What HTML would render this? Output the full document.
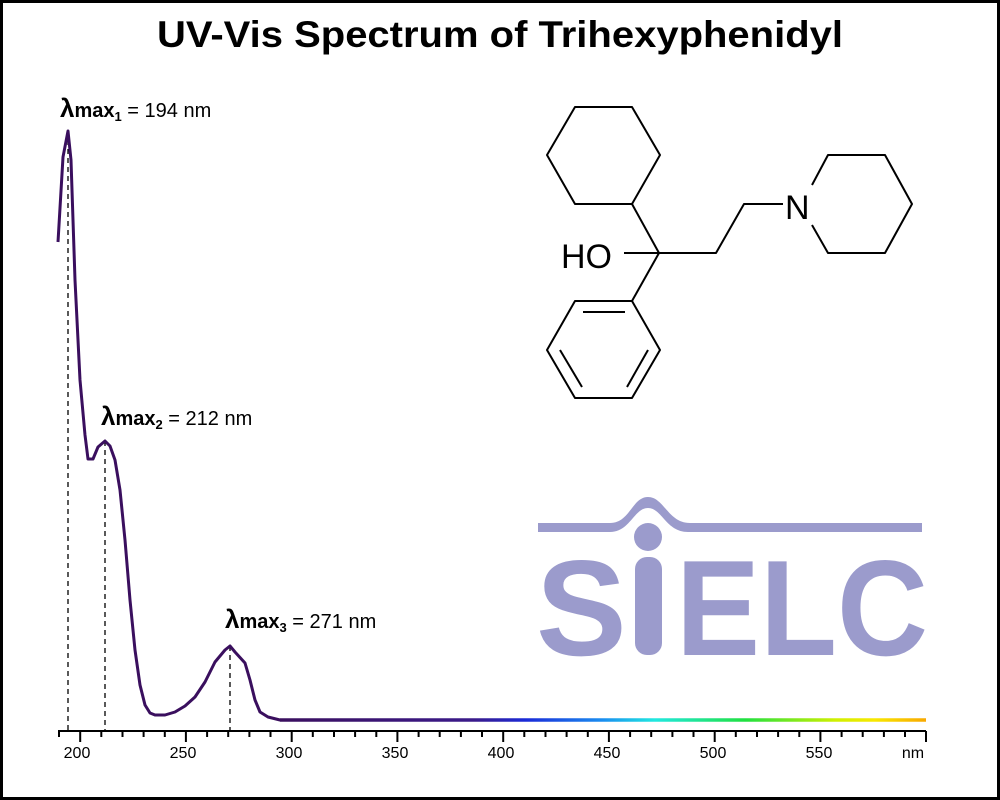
<!DOCTYPE html>
<html><head><style>
html,body{margin:0;padding:0;background:#fff}
svg{display:block}
text{font-family:"Liberation Sans",Arial,sans-serif}
</style></head><body>
<svg width="1000" height="800" viewBox="0 0 1000 800" xmlns="http://www.w3.org/2000/svg">
<defs>
<linearGradient id="spec" gradientUnits="userSpaceOnUse" x1="280" y1="0" x2="926" y2="0">
<stop offset="0" stop-color="#3a0f5e"/>
<stop offset="0.3" stop-color="#3a1a8a"/>
<stop offset="0.38" stop-color="#1a2ad8"/>
<stop offset="0.5" stop-color="#1a8ef0"/>
<stop offset="0.58" stop-color="#20e8e0"/>
<stop offset="0.72" stop-color="#20e040"/>
<stop offset="0.86" stop-color="#d0f000"/>
<stop offset="0.92" stop-color="#f8e800"/>
<stop offset="1" stop-color="#f8a800"/>
</linearGradient>
</defs>
<rect x="1.5" y="1.5" width="997" height="797" fill="#fff" stroke="#000" stroke-width="3"/>
<text x="500" y="47" font-size="37" font-weight="bold" text-anchor="middle" textLength="686" lengthAdjust="spacingAndGlyphs">UV-Vis Spectrum of Trihexyphenidyl</text>

<g fill="#9b9bcc">
<path d="M538 523 L610 523 C630 523 632 497 648 497 C664 497 668 523 690 523 L922 523 L922 532 L688 532 C666 532 662 508 648 508 C634 508 630 532 610 532 L538 532 Z"/>
<circle cx="648" cy="537" r="14"/>
<text x="536" y="655" font-size="136" font-weight="bold">S</text>
<rect x="635" y="557" width="27" height="98" rx="12"/>
<text x="676" y="655" font-size="136" font-weight="bold" textLength="252" lengthAdjust="spacingAndGlyphs">ELC</text>
</g>

<g stroke="#000" stroke-width="2" fill="none" stroke-linejoin="round">
<polygon points="575,107 632,107 660,155 632,204 575,204 547,155"/>
<line x1="632" y1="204" x2="659" y2="253"/>
<line x1="624" y1="253" x2="659" y2="253"/>
<polyline points="659,253 716,253 744,204 783,204"/>
<polyline points="812,185 828,155 885,155 912,204 885,253 828,253 812,225"/>
<line x1="659" y1="253" x2="632" y2="301"/>
<polygon points="632,301 575,301 547,350 575,398 632,398 660,350"/>
<line x1="583" y1="312" x2="625" y2="312"/>
<line x1="560" y1="350" x2="582" y2="387"/>
<line x1="648" y1="350" x2="627" y2="387"/>
</g>
<text x="561" y="268" font-size="34">HO</text>
<text x="785" y="219" font-size="34">N</text>

<g stroke="#000" stroke-width="1.3" stroke-dasharray="5,4">
<line x1="68" y1="131" x2="68" y2="730"/>
<line x1="105" y1="441" x2="105" y2="730"/>
<line x1="230" y1="646" x2="230" y2="730"/>
</g>

<path d="M280 720 L926 720" stroke="url(#spec)" stroke-width="3.5" fill="none"/>
<polyline fill="none" stroke="#3a0f5e" stroke-width="3" stroke-linejoin="round" points="58,242 63,157 68,131 71,160 75,280 80,380 85,435 88,459 93,459 98,447 105,441 110,446 115,460 120,490 125,540 130,600 135,650 140,685 145,705 150,713 155,715 165,715 175,712 185,706 195,697 205,682 215,662 225,650 230,646 235,652 245,663 250,680 255,700 260,712 268,717 280,720 282,720"/>

<g stroke="#000" stroke-width="2">
<line x1="58" y1="731" x2="926" y2="731"/>
<line x1="59" y1="731" x2="59" y2="737"/>
<line x1="80.2" y1="731" x2="80.2" y2="742"/>
<line x1="101.3" y1="731" x2="101.3" y2="737"/>
<line x1="122.5" y1="731" x2="122.5" y2="737"/>
<line x1="143.6" y1="731" x2="143.6" y2="737"/>
<line x1="164.8" y1="731" x2="164.8" y2="737"/>
<line x1="185.9" y1="731" x2="185.9" y2="742"/>
<line x1="207.1" y1="731" x2="207.1" y2="737"/>
<line x1="228.2" y1="731" x2="228.2" y2="737"/>
<line x1="249.4" y1="731" x2="249.4" y2="737"/>
<line x1="270.5" y1="731" x2="270.5" y2="737"/>
<line x1="291.7" y1="731" x2="291.7" y2="742"/>
<line x1="312.8" y1="731" x2="312.8" y2="737"/>
<line x1="334" y1="731" x2="334" y2="737"/>
<line x1="355.1" y1="731" x2="355.1" y2="737"/>
<line x1="376.3" y1="731" x2="376.3" y2="737"/>
<line x1="397.4" y1="731" x2="397.4" y2="742"/>
<line x1="418.6" y1="731" x2="418.6" y2="737"/>
<line x1="439.7" y1="731" x2="439.7" y2="737"/>
<line x1="460.9" y1="731" x2="460.9" y2="737"/>
<line x1="482" y1="731" x2="482" y2="737"/>
<line x1="503.2" y1="731" x2="503.2" y2="742"/>
<line x1="524.3" y1="731" x2="524.3" y2="737"/>
<line x1="545.5" y1="731" x2="545.5" y2="737"/>
<line x1="566.6" y1="731" x2="566.6" y2="737"/>
<line x1="587.8" y1="731" x2="587.8" y2="737"/>
<line x1="608.9" y1="731" x2="608.9" y2="742"/>
<line x1="630.1" y1="731" x2="630.1" y2="737"/>
<line x1="651.2" y1="731" x2="651.2" y2="737"/>
<line x1="672.4" y1="731" x2="672.4" y2="737"/>
<line x1="693.5" y1="731" x2="693.5" y2="737"/>
<line x1="714.7" y1="731" x2="714.7" y2="742"/>
<line x1="735.8" y1="731" x2="735.8" y2="737"/>
<line x1="757" y1="731" x2="757" y2="737"/>
<line x1="778.1" y1="731" x2="778.1" y2="737"/>
<line x1="799.3" y1="731" x2="799.3" y2="737"/>
<line x1="820.4" y1="731" x2="820.4" y2="742"/>
<line x1="841.6" y1="731" x2="841.6" y2="737"/>
<line x1="862.7" y1="731" x2="862.7" y2="737"/>
<line x1="883.9" y1="731" x2="883.9" y2="737"/>
<line x1="905" y1="731" x2="905" y2="737"/>
<line x1="926" y1="731" x2="926" y2="742"/>
</g>
<g font-size="16" text-anchor="middle">
<text x="77" y="758">200</text>
<text x="183" y="758">250</text>
<text x="289" y="758">300</text>
<text x="395" y="758">350</text>
<text x="501" y="758">400</text>
<text x="607" y="758">450</text>
<text x="713" y="758">500</text>
<text x="819" y="758">550</text>
<text x="913" y="758">nm</text>
</g>

<g font-size="20">
<text x="60" y="117"><tspan font-size="26" font-weight="bold">λ</tspan><tspan font-weight="bold">max</tspan><tspan font-weight="bold" font-size="13" dy="4">1</tspan><tspan dy="-4"> = 194 nm</tspan></text>
<text x="101" y="425"><tspan font-size="26" font-weight="bold">λ</tspan><tspan font-weight="bold">max</tspan><tspan font-weight="bold" font-size="13" dy="4">2</tspan><tspan dy="-4"> = 212 nm</tspan></text>
<text x="225" y="628"><tspan font-size="26" font-weight="bold">λ</tspan><tspan font-weight="bold">max</tspan><tspan font-weight="bold" font-size="13" dy="4">3</tspan><tspan dy="-4"> = 271 nm</tspan></text>
</g>
</svg>
</body></html>
